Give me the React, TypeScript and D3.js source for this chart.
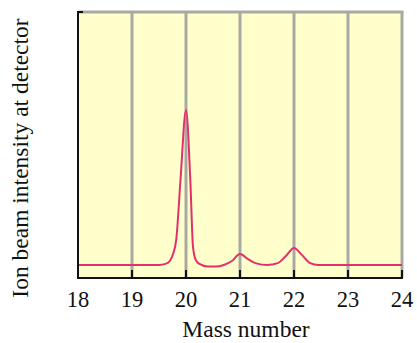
import { useEffect } from 'react';
import * as d3 from 'd3';

// Mass spectrum trace (mass number vs relative intensity, 0..100 = axis bottom..top)
const massValues = [18, 19, 19.5, 19.62, 19.7, 19.76, 19.82, 19.9, 20.0, 20.08, 20.13, 20.18, 20.25, 20.4, 20.55, 20.7, 20.85, 21.0, 21.15, 21.3, 21.5, 21.7, 21.85, 22.0, 22.15, 22.3, 22.45, 23, 24];
const intensityValues = [4.9, 4.9, 4.9, 5.3, 6.4, 9.0, 14.5, 37.5, 63.2, 36.8, 11.7, 6.8, 5.3, 4.3, 4.3, 4.9, 6.4, 9.0, 7.1, 5.5, 4.9, 5.6, 8.3, 11.3, 8.6, 5.6, 4.9, 4.9, 4.9];
const massTicks = [18, 19, 20, 21, 22, 23, 24];

const width = 417;
const height = 343;
const margin = { top: 12, right: 15, bottom: 65, left: 78 };

export default function App() {
  useEffect(() => {
    document.body.style.margin = '0';
  }, []);

  const x = d3.scaleLinear().domain([18, 24]).range([margin.left, width - margin.right]);
  const y = d3.scaleLinear().domain([0, 100]).range([height - margin.bottom, margin.top]);

  const line = d3
    .line<number>()
    .x((d) => x(d))
    .y((_, i) => y(intensityValues[i]))
    .curve(d3.curveMonotoneX);

  const x0 = x(18);
  const x1 = x(24);
  const yTop = y(100);
  const yBot = y(0);

  return (
    <svg width={width} height={height} style={{ display: 'block', background: '#fff' }}>
      <rect x={x0} y={yTop} width={x1 - x0} height={yBot - yTop} fill="#ffffcc" />
      {/* gray grid */}
      {massTicks.slice(1).map((t) => (
        <line key={t} x1={x(t)} x2={x(t)} y1={yTop} y2={yBot} stroke="#a9a9a3" strokeWidth={3} />
      ))}
      <line x1={x0} x2={x1 + 1.5} y1={yTop} y2={yTop} stroke="#a9a9a3" strokeWidth={3} />
      <path d={line(massValues) ?? ''} fill="none" stroke="#e2306c" strokeWidth={2} />
      {/* axes */}
      <line x1={x0} x2={x0} y1={yTop - 1} y2={yBot + 1} stroke="#111" strokeWidth={2} />
      <line x1={x0} x2={x0 + 5} y1={yTop} y2={yTop} stroke="#111" strokeWidth={2} />
      <line x1={x0} x2={x1 + 1} y1={yBot} y2={yBot} stroke="#111" strokeWidth={2} />
      {massTicks.map((t) => (
        <g key={t}>
          <line x1={x(t)} x2={x(t)} y1={yBot} y2={yBot - 8} stroke="#111" strokeWidth={2} />
          <text
            x={x(t)}
            y={307}
            textAnchor="middle"
            fontFamily="Liberation Serif"
            fontSize={22.5}
            fill="#111"
          >
            {t}
          </text>
        </g>
      ))}
      <text x={246} y={337} textAnchor="middle" fontFamily="Liberation Serif" fontSize={23.5} fill="#111">
        Mass number
      </text>
      <text
        transform={`translate(28,158) rotate(-90)`}
        textAnchor="middle"
        fontFamily="Liberation Serif"
        fontSize={23.5}
        fill="#111"
      >
        Ion beam intensity at detector
      </text>
    </svg>
  );
}
